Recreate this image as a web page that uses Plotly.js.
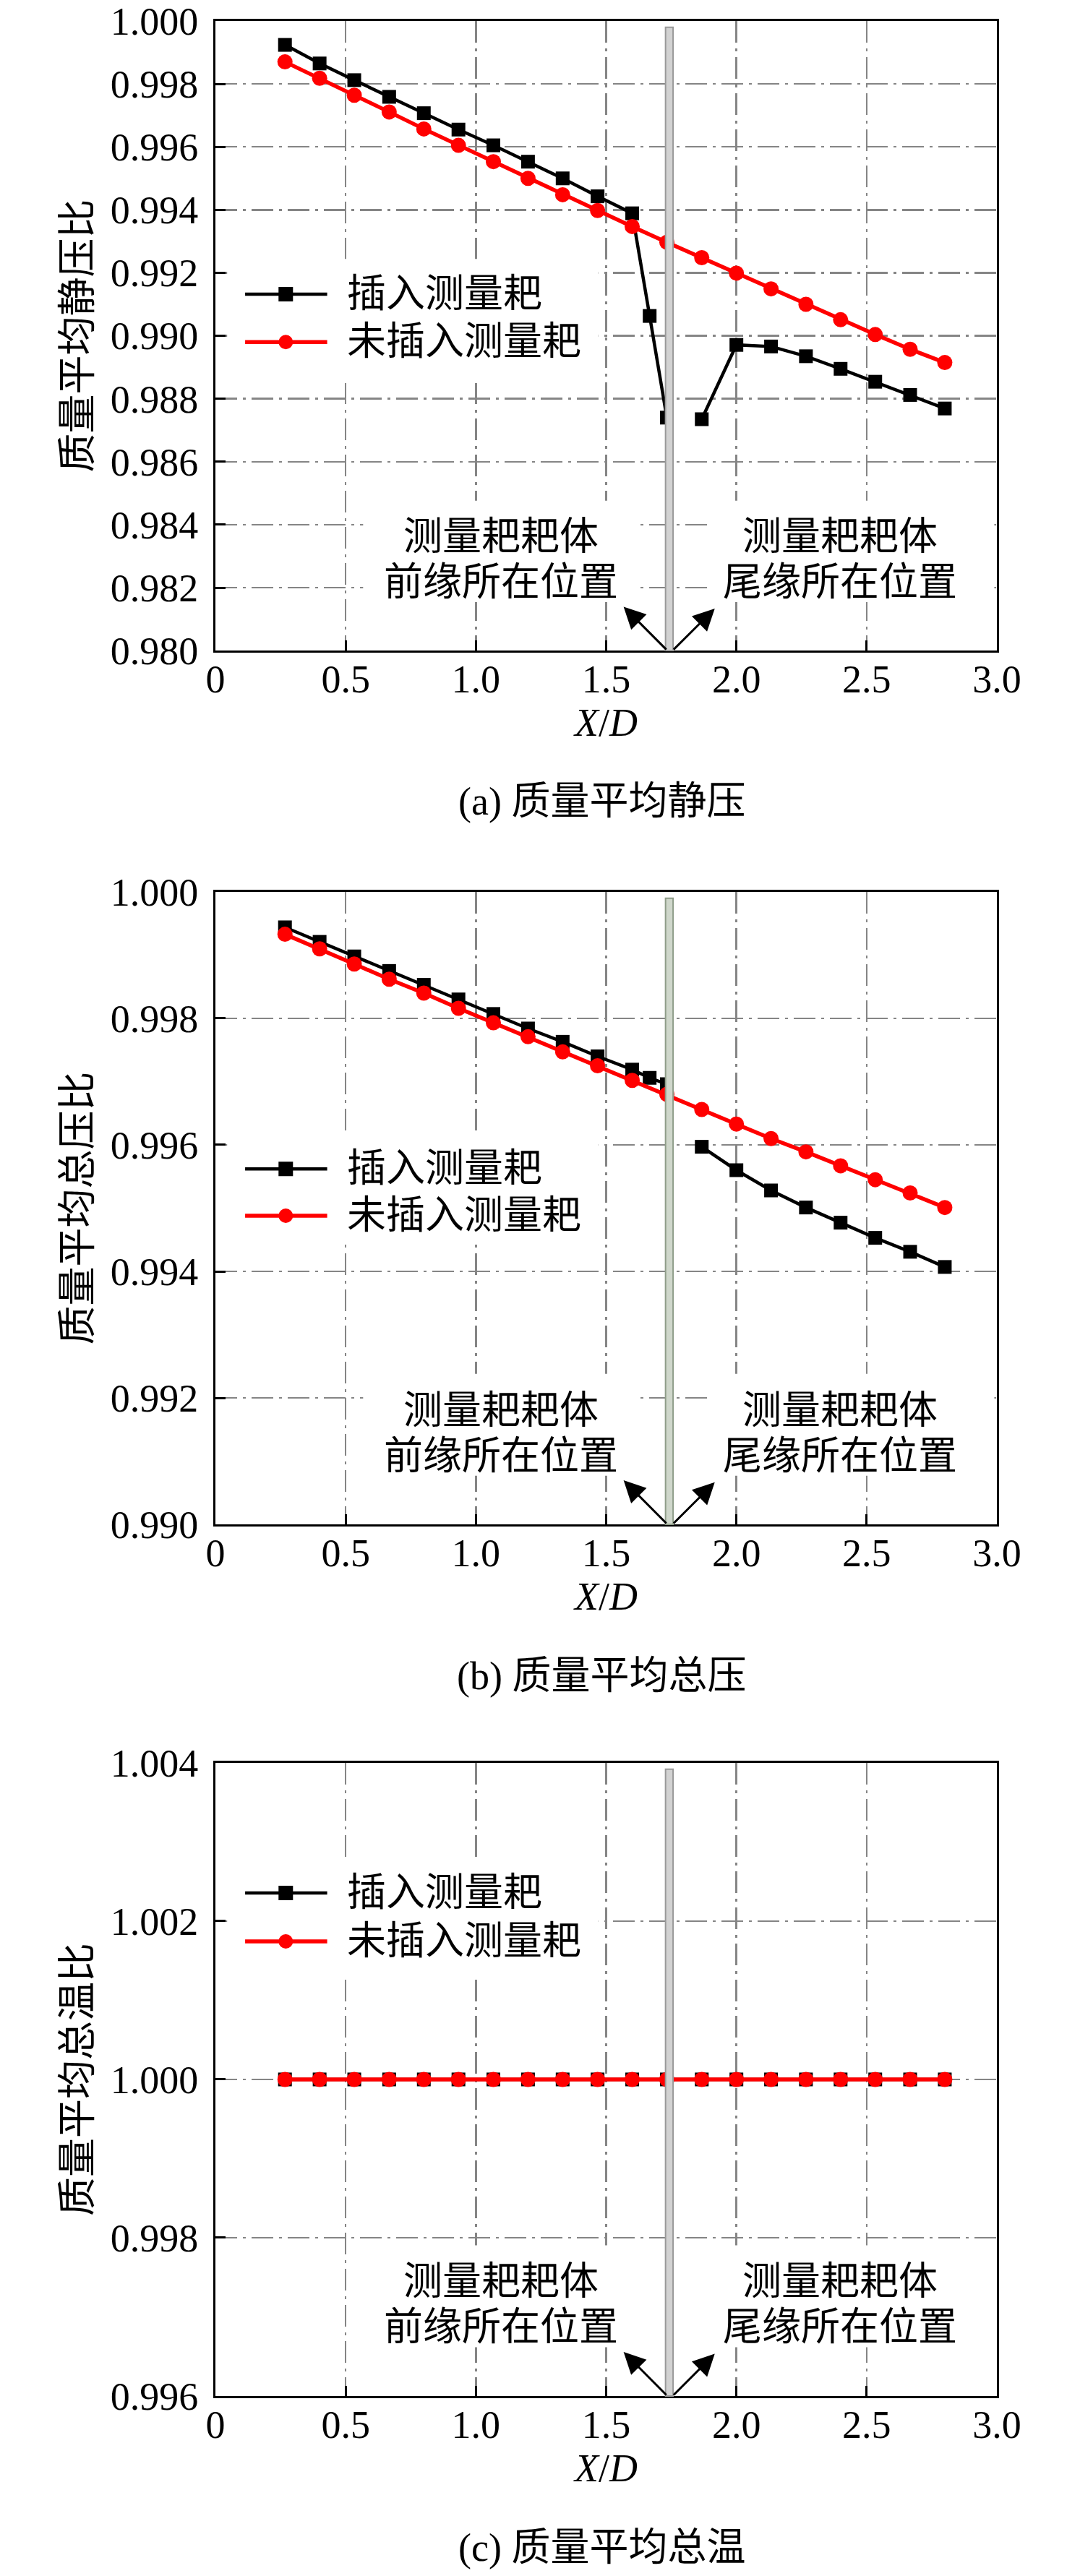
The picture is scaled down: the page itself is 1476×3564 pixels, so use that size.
<!DOCTYPE html>
<html>
<head>
<meta charset="utf-8">
<script src="https://cdn.plot.ly/plotly-3.0.1.min.js"></script>
<style>body{margin:0;background:#fff}</style>
</head>
<body>
<div id="chart" style="width:1476px;height:3564px"></div>
<script>
// measuring stations X/D (without probe rake)
var xStations = [0.267, 0.400, 0.533, 0.667, 0.800, 0.933, 1.067, 1.200, 1.333, 1.467,
                 1.600, 1.733, 1.867, 2.000, 2.133, 2.267, 2.400, 2.533, 2.667, 2.800];
// stations with probe rake inserted (extra point at 1.667, gap over the rake body)
var xProbe = [0.267, 0.400, 0.533, 0.667, 0.800, 0.933, 1.067, 1.200, 1.333, 1.467,
              1.600, 1.667, 1.733, 1.800, 1.867, 2.000, 2.133, 2.267, 2.400, 2.533, 2.667, 2.800];

// (a) mass-averaged static pressure ratio
var staticWith = [0.99924, 0.99865, 0.99812, 0.99759, 0.99707, 0.99655, 0.99605, 0.99553, 0.99500, 0.99443,
                  0.99389, 0.99063, 0.98740, null, 0.98735, 0.98971, 0.98966, 0.98935, 0.98895, 0.98854, 0.98812, 0.98769];
var staticWithout = [0.99870, 0.99818, 0.99764, 0.99711, 0.99657, 0.99605, 0.99553, 0.99500, 0.99448, 0.99398,
                     0.99347, 0.99297, 0.99248, 0.99199, 0.99149, 0.99100, 0.99051, 0.99004, 0.98957, 0.98915];
// (b) mass-averaged total pressure ratio
var totalPWith = [0.99944, 0.99921, 0.99898, 0.99875, 0.99853, 0.99830, 0.99807, 0.99784, 0.99763, 0.99740,
                  0.99719, 0.99706, 0.99696, null, 0.99597, 0.99560, 0.99528, 0.99501, 0.99477, 0.99453, 0.99431, 0.99407];
var totalPWithout = [0.99933, 0.99910, 0.99886, 0.99862, 0.99840, 0.99816, 0.99793, 0.99771, 0.99747, 0.99725,
                     0.99702, 0.99680, 0.99656, 0.99633, 0.99610, 0.99589, 0.99567, 0.99545, 0.99524, 0.99501];
// (c) mass-averaged total temperature ratio
var totalTWith = [1.000, 1.000, 1.000, 1.000, 1.000, 1.000, 1.000, 1.000, 1.000, 1.000,
                  1.000, 1.000, 1.000, 1.000, 1.000, 1.000, 1.000, 1.000, 1.000, 1.000];
var totalTWithout = [1.000, 1.000, 1.000, 1.000, 1.000, 1.000, 1.000, 1.000, 1.000, 1.000,
                     1.000, 1.000, 1.000, 1.000, 1.000, 1.000, 1.000, 1.000, 1.000, 1.000];

var seriesNames = ['插入测量耙', '未插入测量耙'];
var yTitles = ['质量平均静压比', '质量平均总压比', '质量平均总温比'];
var captions = ['(a) 质量平均静压', '(b) 质量平均总压', '(c) 质量平均总温'];
var yRanges = [[0.980, 1.000], [0.990, 1.000], [0.996, 1.004]];
var xTickVals = [0, 0.5, 1.0, 1.5, 2.0, 2.5, 3.0];
var xTickText = ['0', '0.5', '1.0', '1.5', '2.0', '2.5', '3.0'];
var noteLead = ['测量耙耙体', '前缘所在位置'];
var noteTrail = ['测量耙耙体', '尾缘所在位置'];

var panels = [
    { xWith: xProbe, yWith: staticWith, yWithout: staticWithout },
    { xWith: xProbe, yWith: totalPWith, yWithout: totalPWithout },
    { xWith: xStations, yWith: totalTWith, yWithout: totalTWithout }
];

// styling
var FONT = "'Liberation Serif', 'Noto Sans CJK SC', serif";
var BLACK = '#000000';
var RED = '#ff0000';
var GRID = '#858585';
var domains = [[0.7349, 1.0], [0.3670, 0.6333], [0.0, 0.2666]];
var bandFill = ['#d2d2d2', '#cfd7cb', '#d2d2d2'];
var bandEdge = ['#999999', '#8f9d89', '#999999'];
var legendRows = [[0.566, 0.490], [0.562, 0.488], [0.7945, 0.718]];
var legendBox = [[0.425, 0.622], [0.445, 0.622], [0.664, 0.846]];

var traces = [];
var shapes = [];
var annotations = [];
var layout = {
    width: 1476,
    height: 3564,
    margin: { l: 298, r: 97, t: 29, b: 249 },
    paper_bgcolor: '#ffffff',
    plot_bgcolor: '#ffffff',
    showlegend: false,
    font: { family: FONT, size: 54, color: BLACK }
};

for (var i = 0; i < panels.length; i++) {
    var s = (i == 0) ? '' : String(i + 1);
    var xa = 'x' + s, ya = 'y' + s;
    var xd = xa + ' domain', yd = ya + ' domain';
    var p = panels[i];

    traces.push({
        type: 'scatter', mode: 'lines+markers', name: seriesNames[0],
        x: p.xWith, y: p.yWith, xaxis: xa, yaxis: ya, connectgaps: false,
        line: { color: BLACK, width: 4.5 },
        marker: { symbol: 'square', size: 19, color: BLACK }
    });
    traces.push({
        type: 'scatter', mode: 'lines+markers', name: seriesNames[1],
        x: xStations, y: p.yWithout, xaxis: xa, yaxis: ya,
        line: { color: RED, width: 5.5 },
        marker: { symbol: 'circle', size: 21, color: RED }
    });

    layout['xaxis' + s] = {
        domain: [0, 1], anchor: ya, range: [0, 3],
        tickmode: 'array', tickvals: xTickVals, ticktext: xTickText,
        ticks: 'inside', ticklen: 14, tickwidth: 3, tickcolor: BLACK,
        ticklabelstandoff: -10, ticklabeloverflow: 'allow',
        tickfont: { family: FONT, size: 54, color: BLACK },
        showline: true, linewidth: 3, linecolor: BLACK, mirror: true,
        showgrid: true, gridcolor: GRID, gridwidth: 2.5, griddash: '30px,8px,4px,8px',
        zeroline: false,
        title: { text: '<i>X</i>/<i>D</i>', font: { family: FONT, size: 54 }, standoff: 10 }
    };
    layout['yaxis' + s] = {
        domain: domains[i], anchor: xa, range: yRanges[i],
        dtick: 0.002, tickformat: '.3f',
        ticks: 'inside', ticklen: 14, tickwidth: 3, tickcolor: BLACK,
        ticklabelstandoff: 10, ticklabeloverflow: 'allow',
        tickfont: { family: FONT, size: 54, color: BLACK },
        showline: true, linewidth: 3, linecolor: BLACK, mirror: true,
        showgrid: true, gridcolor: GRID, gridwidth: 2.5, griddash: '30px,8px,4px,8px',
        zeroline: false,
        title: { text: yTitles[i], font: { family: FONT, size: 54 }, standoff: 9 }
    };

    // probe rake body
    shapes.push({
        type: 'rect', xref: xa, yref: yd, x0: 1.728, x1: 1.757, y0: 0, y1: 0.99,
        fillcolor: bandFill[i], line: { color: bandEdge[i], width: 2 }, layer: 'above'
    });
    // white backing behind legend and notes (hides the grid there)
    shapes.push({
        type: 'rect', xref: xd, yref: yd, x0: 0.015, x1: 0.49, y0: legendBox[i][0], y1: legendBox[i][1],
        fillcolor: '#ffffff', line: { width: 0 }, layer: 'above'
    });
    shapes.push({
        type: 'rect', xref: xa, yref: yd, x0: 0.567, x1: 1.625, y0: 0.077, y1: 0.238,
        fillcolor: '#ffffff', line: { width: 0 }, layer: 'above'
    });
    shapes.push({
        type: 'rect', xref: xa, yref: yd, x0: 1.9, x1: 2.99, y0: 0.077, y1: 0.238,
        fillcolor: '#ffffff', line: { width: 0 }, layer: 'above'
    });

    // legend (long sample lines like the original)
    var legColors = [BLACK, RED];
    var legWidths = [4.5, 5.5];
    for (var k = 0; k < 2; k++) {
        var r = legendRows[i][k];
        shapes.push({
            type: 'line', xref: xd, yref: yd, x0: 0.038, x1: 0.143, y0: r, y1: r,
            line: { color: legColors[k], width: legWidths[k] }, layer: 'above'
        });
        shapes.push({
            type: (k == 0) ? 'rect' : 'circle', xref: xd, yref: yd,
            xsizemode: 'pixel', ysizemode: 'pixel', xanchor: 0.090, yanchor: r,
            x0: -10, x1: 10, y0: -10, y1: 10,
            fillcolor: legColors[k], line: { width: 0 }, layer: 'above'
        });
        annotations.push({
            xref: xd, yref: yd, x: 0.1665, y: r, xanchor: 'left', yanchor: 'middle',
            text: seriesNames[k], showarrow: false, font: { family: FONT, size: 54, color: BLACK }
        });
    }

    // notes on the rake leading / trailing edge
    var noteY = [0.180, 0.108];
    for (var n = 0; n < 2; n++) {
        annotations.push({
            xref: xa, yref: yd, x: 1.097, y: noteY[n], text: noteLead[n], showarrow: false,
            xanchor: 'center', yanchor: 'middle', font: { family: FONT, size: 54, color: BLACK }
        });
        annotations.push({
            xref: xa, yref: yd, x: 2.397, y: noteY[n], text: noteTrail[n], showarrow: false,
            xanchor: 'center', yanchor: 'middle', font: { family: FONT, size: 54, color: BLACK }
        });
    }
    annotations.push({
        xref: xa, yref: yd, x: 1.567, y: 0.0697, axref: xa, ayref: yd, ax: 1.735, ay: 0,
        text: '', showarrow: true, arrowhead: 2, arrowsize: 2.0, arrowwidth: 3, arrowcolor: BLACK
    });
    annotations.push({
        xref: xa, yref: yd, x: 1.917, y: 0.0667, axref: xa, ayref: yd, ax: 1.755, ay: 0,
        text: '', showarrow: true, arrowhead: 2, arrowsize: 2.0, arrowwidth: 3, arrowcolor: BLACK
    });

    // panel caption
    annotations.push({
        xref: xd, yref: yd, x: 0.494, y: -0.24, text: captions[i], showarrow: false,
        xanchor: 'center', yanchor: 'middle', font: { family: FONT, size: 54, color: BLACK }
    });
}

layout.shapes = shapes;
layout.annotations = annotations;

Plotly.newPlot('chart', traces, layout, { displayModeBar: false, staticPlot: true });
</script>
</body>
</html>
